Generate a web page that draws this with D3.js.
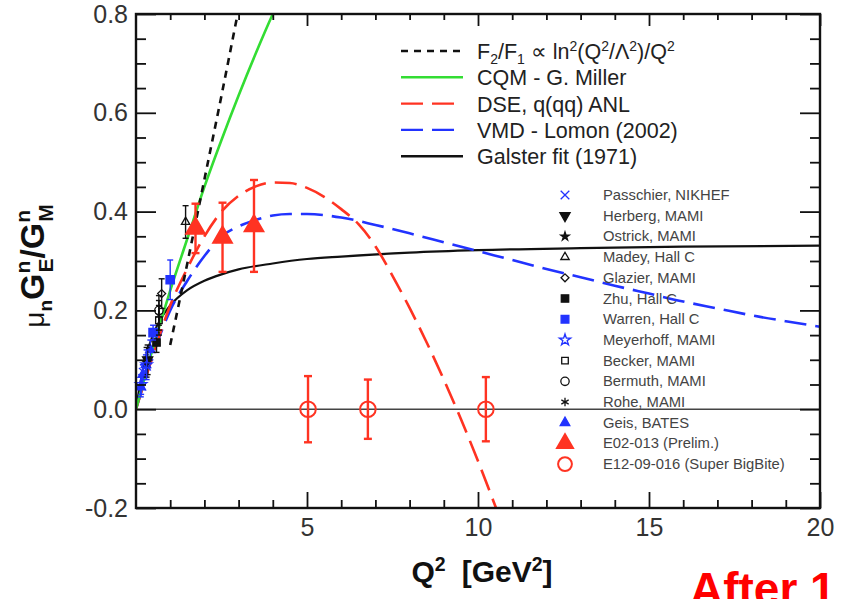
<!DOCTYPE html>
<html>
<head>
<meta charset="utf-8">
<script src="https://cdn.jsdelivr.net/npm/d3@7"></script>
<style>
  body { margin: 0; background: #fff; }
  text { font-family: "Liberation Sans", Arial, Helvetica, sans-serif; }
</style>
</head>
<body>
<div id="main"></div>
<script>
// ---- curves ----
var galsterQ2  = [0, 0.25, 0.5, 0.75, 1, 1.5, 2, 2.5, 3, 4, 5, 6, 8, 10, 13, 16, 20];
var galsterVal = [0, 0.097, 0.151, 0.186, 0.210, 0.241, 0.260, 0.273, 0.283, 0.295, 0.304, 0.309, 0.317, 0.322, 0.326, 0.329, 0.331];

var dseQ2  = [0, 0.5, 1, 1.5, 2, 2.5, 3, 3.5, 4, 4.5, 5, 5.5, 6, 6.5, 7, 7.5, 8, 8.5, 9, 9.5, 10, 10.5, 10.8];
var dseVal = [0, 0.11, 0.21, 0.285, 0.35, 0.40, 0.432, 0.451, 0.459, 0.458, 0.448, 0.43, 0.405, 0.375, 0.33, 0.27, 0.205, 0.135, 0.06, -0.02, -0.105, -0.195, -0.25];

var vmdQ2  = [0, 0.5, 1, 1.5, 2, 2.5, 3, 3.5, 4, 4.5, 5, 6, 7, 8, 9, 10, 11, 12, 13, 14, 15, 16, 17, 18, 19, 20];
var vmdVal = [0, 0.11, 0.2, 0.26, 0.31, 0.35, 0.37, 0.383, 0.392, 0.395, 0.395, 0.388, 0.373, 0.356, 0.338, 0.32, 0.302, 0.284, 0.267, 0.25, 0.234, 0.218, 0.204, 0.19, 0.178, 0.167];

var cqmQ2  = [0, 0.5, 1, 1.5, 2, 2.5, 3, 3.5, 4, 4.2];
var cqmVal = [0, 0.125, 0.24, 0.345, 0.45, 0.545, 0.635, 0.72, 0.80, 0.83];

var pqcdQ2  = [1.0, 1.5, 2.0, 2.5, 3.0, 3.1];
var pqcdVal = [0.13, 0.295, 0.465, 0.635, 0.81, 0.845];

// ---- data points ----
var passchierQ2 = [0.21], passchierVal = [0.075], passchierErr = [0.015];
var herbergQ2 = [0.34], herbergVal = [0.10], herbergErr = [0.03];
var ostrickQ2 = [0.31], ostrickVal = [0.095], ostrickErr = [0.03];
var madeyQ2 = [1.45], madeyVal = [0.379], madeyErr = [0.033];
var glazierQ2 = [0.75], glazierVal = [0.234], glazierErr = [0.03];
var zhuQ2 = [0.6], zhuVal = [0.135], zhuErr = [0.02];
var warrenQ2 = [0.5, 1.0], warrenVal = [0.155, 0.262], warrenErr = [0.015, 0.04];
var meyerhoffQ2 = [0.15, 0.31], meyerhoffVal = [0.05, 0.09], meyerhoffErr = [0.02, 0.03];
var beckerQ2 = [0.67], beckerVal = [0.18], beckerErr = [0.03];
var bermuthQ2 = [0.67], bermuthVal = [0.2], bermuthErr = [0.03];
var roheQ2 = [0.67], roheVal = [0.19], roheErr = [0.03];
var geisQ2 = [0.14, 0.2, 0.29, 0.42], geisVal = [0.045, 0.07, 0.09, 0.12], geisErr = [0.02, 0.02, 0.02, 0.02];
var e02Q2 = [1.74, 2.53, 3.45], e02Val = [0.366, 0.348, 0.371], e02Err = [0.05, 0.07, 0.093];
var e12Q2 = [5.03, 6.78, 10.23], e12Val = [0, 0, 0], e12Err = [0.067, 0.06, 0.065];

// ---- ticks and labels ----
var xMajorTicks = [5, 10, 15, 20];
var xMinorTicks = [1, 2, 3, 4, 6, 7, 8, 9, 11, 12, 13, 14, 16, 17, 18, 19];
var yMajorTicks = [-0.2, 0, 0.2, 0.4, 0.6, 0.8];
var yMinorTicks = [-0.15, -0.1, -0.05, 0.05, 0.1, 0.15, 0.25, 0.3, 0.35, 0.45, 0.5, 0.55, 0.65, 0.7, 0.75];
var theoryNames = ["CQM - G. Miller", "DSE, q(qq) ANL", "VMD - Lomon (2002)", "Galster fit (1971)"];
var expNames = ["Passchier, NIKHEF", "Herberg, MAMI", "Ostrick, MAMI", "Madey, Hall C", "Glazier, MAMI",
  "Zhu, Hall C", "Warren, Hall C", "Meyerhoff, MAMI", "Becker, MAMI", "Bermuth, MAMI", "Rohe, MAMI",
  "Geis, BATES", "E02-013 (Prelim.)", "E12-09-016 (Super BigBite)"];

var RED = "#ff3322", BLUE = "#2233ff", GREEN = "#33dd33", BLK = "#111";

var svg = d3.select("#main").append("svg")
    .attr("width", 846)
    .attr("height", 599);

var x = d3.scaleLinear().domain([0, 20]).range([136, 820]);
var y = d3.scaleLinear().domain([-0.2, 0.8]).range([508, 14]);

svg.append("clipPath").attr("id", "plot")
  .append("rect").attr("x", 136).attr("y", 14).attr("width", 684).attr("height", 494);

// zero line
svg.append("line")
  .attr("x1", x(0)).attr("x2", x(20)).attr("y1", y(0)).attr("y2", y(0))
  .attr("stroke", "#444").attr("stroke-width", 1.6);

// ---- theory curves ----
var line = d3.line().x(d => x(d[0])).y(d => y(d[1])).curve(d3.curveMonotoneX);
function curve(qs, vs, color, width, dash) {
  svg.append("path")
    .datum(d3.zip(qs, vs))
    .attr("clip-path", "url(#plot)")
    .attr("d", line)
    .attr("fill", "none")
    .attr("stroke", color)
    .attr("stroke-width", width)
    .attr("stroke-dasharray", dash);
}
curve(galsterQ2, galsterVal, BLK, 2.2, null);
curve(vmdQ2, vmdVal, BLUE, 2.6, "22,9");
curve(dseQ2, dseVal, RED, 2.6, "22,9");
curve(cqmQ2, cqmVal, GREEN, 2.6, null);
curve(pqcdQ2, pqcdVal, BLK, 2.6, "7,6");

// ---- data points ----
function sym(type, size, rot) {
  return { type: type, size: size, rot: rot || 0 };
}
var sets = [
  { q: geisQ2, v: geisVal, e: geisErr, m: sym(d3.symbolTriangle, 40), color: BLUE, fill: true },
  { q: passchierQ2, v: passchierVal, e: passchierErr, m: sym(d3.symbolTimes, 50), color: BLUE, fill: false },
  { q: herbergQ2, v: herbergVal, e: herbergErr, m: sym(d3.symbolTriangle, 45, 180), color: BLK, fill: true },
  { q: ostrickQ2, v: ostrickVal, e: ostrickErr, m: sym(d3.symbolStar, 22), color: BLK, fill: true },
  { q: madeyQ2, v: madeyVal, e: madeyErr, m: sym(d3.symbolTriangle2, 50), color: BLK, fill: false },
  { q: glazierQ2, v: glazierVal, e: glazierErr, m: sym(d3.symbolDiamond2, 40), color: BLK, fill: false },
  { q: zhuQ2, v: zhuVal, e: zhuErr, m: sym(d3.symbolSquare, 55), color: BLK, fill: true },
  { q: warrenQ2, v: warrenVal, e: warrenErr, m: sym(d3.symbolSquare, 70), color: BLUE, fill: true },
  { q: meyerhoffQ2, v: meyerhoffVal, e: meyerhoffErr, m: sym(d3.symbolStar, 40), color: BLUE, fill: false },
  { q: beckerQ2, v: beckerVal, e: beckerErr, m: sym(d3.symbolSquare2, 55), color: BLK, fill: false },
  { q: bermuthQ2, v: bermuthVal, e: bermuthErr, m: sym(d3.symbolCircle, 55), color: BLK, fill: false },
  { q: roheQ2, v: roheVal, e: roheErr, m: sym(d3.symbolAsterisk, 50), color: BLK, fill: false },
  { q: e02Q2, v: e02Val, e: e02Err, m: sym(d3.symbolTriangle, 150), color: RED, fill: true, big: true },
  { q: e12Q2, v: e12Val, e: e12Err, m: sym(d3.symbolCircle, 190), color: RED, fill: false, big: true }
];
// legend order = expNames order
var legendSets = [1, 2, 3, 4, 5, 6, 7, 8, 9, 10, 11, 0, 12, 13];
var legendSize = [50, 45, 22, 50, 40, 55, 60, 40, 55, 55, 50, 40, 110, 150];

function drawMarker(g, s, cx, cy, size) {
  g.append("path")
    .attr("transform", "translate(" + cx + "," + cy + ") rotate(" + s.m.rot + ")")
    .attr("d", d3.symbol().type(s.m.type).size(size || s.m.size))
    .attr("fill", s.fill ? s.color : "none")
    .attr("stroke", s.color)
    .attr("stroke-width", s.big ? 2 : 1.3);
}

sets.forEach(function (s) {
  var g = svg.append("g");
  var cap = s.big ? 4 : 3;
  var sw = s.big ? 2.4 : 1.4;
  s.q.forEach(function (q, i) {
    var cx = x(q), y1 = y(s.v[i] - s.e[i]), y2 = y(s.v[i] + s.e[i]);
    g.append("line").attr("x1", cx).attr("x2", cx).attr("y1", y1).attr("y2", y2)
      .attr("stroke", s.color).attr("stroke-width", sw);
    [y1, y2].forEach(function (yy) {
      g.append("line").attr("x1", cx - cap).attr("x2", cx + cap).attr("y1", yy).attr("y2", yy)
        .attr("stroke", s.color).attr("stroke-width", sw);
    });
    drawMarker(g, s, cx, y(s.v[i]));
  });
});

// ---- axes ----
function styleAxis(g) {
  g.select(".domain").remove();
  g.selectAll("line").attr("stroke", BLK).attr("stroke-width", 1.8);
  g.attr("font-size", 25).attr("font-family", "'Liberation Sans', Arial, sans-serif");
  g.selectAll("text").attr("fill", "#333");
  return g;
}
var fmt = function (d) { return d.toFixed(1); };
styleAxis(svg.append("g").attr("transform", "translate(136,0)")
  .call(d3.axisLeft(y).tickValues(yMajorTicks).tickSizeInner(-20).tickSizeOuter(0).tickPadding(8).tickFormat(fmt)));
styleAxis(svg.append("g").attr("transform", "translate(136,0)")
  .call(d3.axisLeft(y).tickValues(yMinorTicks).tickSizeInner(-10).tickSizeOuter(0).tickFormat("")));
styleAxis(svg.append("g").attr("transform", "translate(820,0)")
  .call(d3.axisRight(y).tickValues(yMajorTicks).tickSizeInner(-20).tickSizeOuter(0).tickFormat("")));
styleAxis(svg.append("g").attr("transform", "translate(820,0)")
  .call(d3.axisRight(y).tickValues(yMinorTicks).tickSizeInner(-10).tickSizeOuter(0).tickFormat("")));
styleAxis(svg.append("g").attr("transform", "translate(0,508)")
  .call(d3.axisBottom(x).tickValues(xMajorTicks).tickSizeInner(-16).tickSizeOuter(0).tickPadding(10).tickFormat(d3.format("d"))));
styleAxis(svg.append("g").attr("transform", "translate(0,508)")
  .call(d3.axisBottom(x).tickValues(xMinorTicks).tickSizeInner(-8).tickSizeOuter(0).tickFormat("")));
styleAxis(svg.append("g").attr("transform", "translate(0,14)")
  .call(d3.axisTop(x).tickValues(xMajorTicks).tickSizeInner(-12).tickSizeOuter(0).tickFormat("")));
styleAxis(svg.append("g").attr("transform", "translate(0,14)")
  .call(d3.axisTop(x).tickValues(xMinorTicks).tickSizeInner(-6).tickSizeOuter(0).tickFormat("")));

svg.append("rect")
  .attr("x", 136).attr("y", 14).attr("width", 684).attr("height", 494)
  .attr("fill", "none").attr("stroke", BLK).attr("stroke-width", 2.4);

// ---- rich text helper: parts of [text, mode, dx]; mode 1 sup, -1 sub ----
function richText(t, parts, base) {
  var level = 0;
  parts.forEach(function (p) {
    var target = p[1] || 0;
    var k = target < 0 || level < 0 ? 0.25 : 0.38;
    var shift = (target - level) * (base * k);
    var ts = t.append("tspan").text(p[0]).attr("dy", -shift);
    if (target !== 0) ts.attr("font-size", base * 0.65);
    if (p[2]) ts.attr("dx", p[2]);
    level = target;
  });
}

// ---- theory legend ----
var leg1 = svg.append("g");
var theoryStyles = [
  { color: BLK, dash: "7,6" },
  { color: GREEN, dash: null },
  { color: RED, dash: "22,9" },
  { color: BLUE, dash: "22,9" },
  { color: BLK, dash: null }
];
theoryStyles.forEach(function (st, i) {
  var yy = 51 + i * 26.3;
  leg1.append("line").attr("x1", 401).attr("x2", 463).attr("y1", yy).attr("y2", yy)
    .attr("stroke", st.color).attr("stroke-width", 2.4).attr("stroke-dasharray", st.dash);
  var t = leg1.append("text").attr("x", 477).attr("y", yy + 8).attr("font-size", 21.5).attr("fill", "#222");
  if (i === 0) {
    richText(t, [["F"], ["2", -1], ["/F"], ["1", -1], [" \u221D ln"], ["2", 1], ["(Q"], ["2", 1], ["/\u039B"], ["2", 1], [")/Q"], ["2", 1]], 21.5);
  } else {
    t.text(theoryNames[i - 1]);
  }
});

// ---- experiment legend ----
var leg2 = svg.append("g");
legendSets.forEach(function (si, i) {
  var yy = 195 + i * 20.7;
  drawMarker(leg2, sets[si], 565, yy, legendSize[i]);
  leg2.append("text").attr("x", 603).attr("y", yy + 5).attr("font-size", 14.8).attr("fill", "#444")
    .text(expNames[i]);
});

// ---- axis titles ----
var yt = svg.append("text")
  .attr("transform", "translate(44,266) rotate(-90)")
  .attr("text-anchor", "middle")
  .attr("font-size", 34).attr("font-weight", "bold").attr("fill", "#111");
yt.append("tspan").text("\u03BC").attr("font-weight", "normal").attr("font-size", 28);
yt.append("tspan").text("n").attr("font-size", 19).attr("dy", 8);
yt.append("tspan").text("G").attr("dy", -8);
yt.append("tspan").text("n").attr("font-size", 21).attr("dy", -14);
yt.append("tspan").text("E").attr("font-size", 21).attr("dx", -12).attr("dy", 23);
yt.append("tspan").text("/G").attr("dy", -9);
yt.append("tspan").text("n").attr("font-size", 21).attr("dy", -14);
yt.append("tspan").text("M").attr("font-size", 21).attr("dx", -12).attr("dy", 23);

var xt = svg.append("text")
  .attr("x", 482).attr("y", 582)
  .attr("text-anchor", "middle")
  .attr("font-size", 30).attr("font-weight", "bold").attr("fill", "#111");
richText(xt, [["Q"], ["2", 1], ["[GeV", 0, 16], ["2", 1], ["]"]], 30);

// ---- overlay note (cut off by the page edge, as in the source) ----
svg.append("text")
  .attr("x", 690).attr("y", 605)
  .attr("font-size", 46).attr("font-weight", "bold").attr("fill", "#ff0000")
  .text("After 1");
</script>
</body>
</html>
